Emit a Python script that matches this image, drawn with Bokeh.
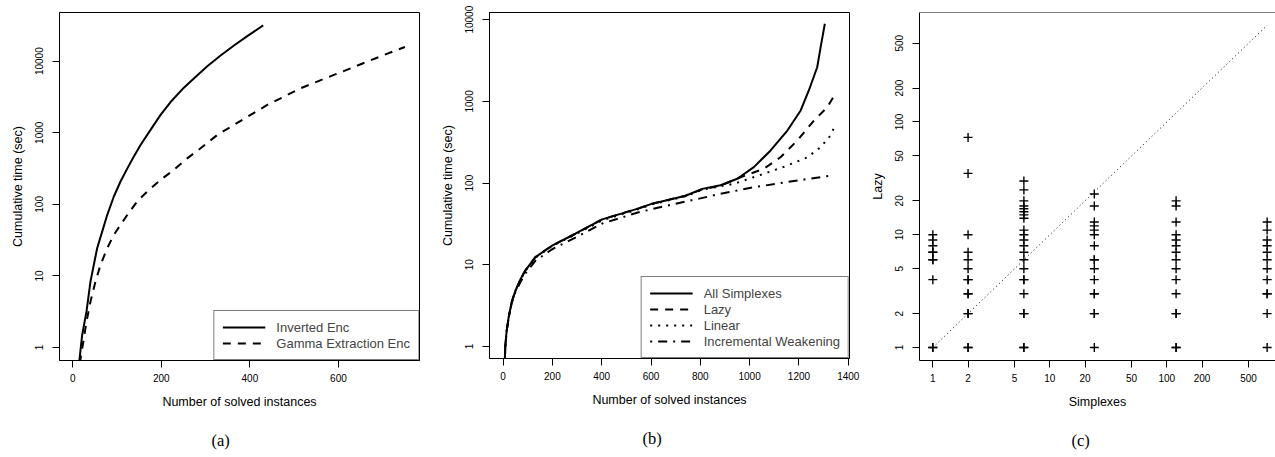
from bokeh.plotting import figure
from bokeh.layouts import row
from bokeh.models import (Range1d, FixedTicker, PrintfTickFormatter, Legend,
                          LegendItem, Title, Span)
from bokeh.embed import file_html
from bokeh.resources import INLINE

# ---------------- data ----------------
# (a) cumulative time vs number of solved instances
inv_x = [14, 15, 21.2, 31, 40, 49, 55, 66.4, 77.7, 92.7, 107.8, 122.9, 137.9, 153,
         175.6, 198.2, 220.8, 250.9, 273.4, 303.7, 333.8, 364, 394, 430]
inv_y = [0.6, 0.67, 1.5, 3.2, 8.4, 15.9, 24.4, 41.7, 71, 129, 209, 316, 468, 676,
         1097, 1780, 2690, 4270, 5750, 8510, 12000, 16600, 22400, 31600]
gam_x = [16, 17, 22.7, 31, 40, 51.3, 62.6, 77.7, 92.7, 107.8, 122.9, 145.5, 168, 198.2,
         228.2, 258.5, 288.6, 326.3, 364, 401.6, 439.3, 476.8, 514.6, 552, 589.8, 627.5,
         665, 703, 750]
gam_y = [0.6, 0.67, 1.09, 2.3, 4.4, 8.4, 14.3, 24.4, 37.5, 51.7, 71, 110, 151, 220,
         303, 440, 607, 933, 1290, 1780, 2450, 3200, 4190, 5190, 6430, 7950,
         9860, 12240, 15800]

# (b)
all_x = [7, 9, 14, 23, 35, 50, 70, 90, 131, 199, 293, 402, 550, 605, 740, 808, 882,
         950, 1017, 1085, 1153, 1207, 1240, 1274, 1288, 1305]
all_y = [0.65, 1, 1.5, 2.3, 3.5, 4.8, 6.6, 8.5, 12.4, 17.2, 24, 36, 49, 56, 70, 85, 94,
         113, 157, 251, 440, 774, 1360, 2620, 4610, 8910]
lazy_x = [7, 9, 14, 23, 35, 50, 70, 90, 131, 199, 293, 402, 550, 605, 740, 808, 882,
          963, 1058, 1125, 1193, 1261, 1315, 1351]
lazy_y = [0.65, 1, 1.5, 2.3, 3.5, 4.8, 6.6, 8.5, 12.4, 17.2, 24, 36, 49, 56, 70, 84, 93,
          118, 150, 207, 331, 584, 850, 1297]
lin_x = [7, 9, 14, 23, 35, 50, 70, 90, 131, 199, 293, 402, 550, 605, 740, 808, 936,
         1058, 1153, 1234, 1288, 1328, 1349]
lin_y = [0.65, 1, 1.5, 2.3, 3.5, 4.8, 6.5, 8.4, 12.2, 17, 23.5, 35, 48, 55, 69, 83, 98,
         130, 164, 207, 275, 383, 532]
iw_x = [7, 9, 14, 23, 35, 50, 70, 90, 131, 199, 293, 402, 550, 700, 800, 882, 1017,
        1153, 1332]
iw_y = [0.65, 1, 1.5, 2.3, 3.4, 4.6, 6.1, 7.8, 11.2, 15.5, 21.5, 32, 44, 56, 65, 74, 89,
        103, 124]

# (c) scatter: Simplexes (x) vs Lazy (y)
simplex_cols = [1, 2, 6, 24, 120, 720]
lazy_by_col = [
    [1, 1, 4, 6, 6, 7, 7, 8, 9, 10],
    [1, 1, 2, 2, 3, 3, 4, 4, 5, 6, 7, 10, 35, 73],
    [1, 1, 2, 2, 3, 4, 4, 5, 6, 7, 8, 9, 10, 11, 14, 15, 16, 17, 18, 20, 25, 30],
    [1, 2, 2, 3, 3, 4, 5, 6, 6, 8, 10, 11, 12, 13, 18, 23],
    [1, 1, 2, 2, 3, 4, 5, 6, 7, 8, 9, 10, 13, 18, 20],
    [1, 2, 3, 3, 4, 5, 6, 7, 8, 9, 11, 13],
]
diag = [1, 720]

# tick labels
a_xticks = [0, 200, 400, 600]
b_xticks = [0, 200, 400, 600, 800, 1000, 1200, 1400]
ab_yticks = [1, 10, 100, 1000, 10000]
c_ticks = [1, 2, 5, 10, 20, 50, 100, 200, 500]

FONT = "Liberation Sans"
SERIF = "Liberation Serif"


def make_fig(fw, fh, left, top, right, xr, yr, xlog, ylog):
    p = figure(frame_width=fw, frame_height=fh, min_border_left=left,
               min_border_right=right, min_border_top=top, min_border_bottom=10,
               x_range=xr, y_range=yr,
               x_axis_type="log" if xlog else "linear",
               y_axis_type="log" if ylog else "linear",
               output_backend="svg", toolbar_location=None)
    p.xgrid.visible = False
    p.ygrid.visible = False
    p.outline_line_color = "black"
    p.outline_line_width = 1
    p.background_fill_color = "white"
    p.border_fill_color = "white"
    for ax in (p.xaxis[0], p.yaxis[0]):
        ax.major_tick_in = 0
        ax.major_tick_out = 7
        ax.minor_tick_in = 0
        ax.minor_tick_out = 0
        ax.major_tick_line_color = "black"
        ax.axis_line_color = "black"
        ax.major_label_text_font = FONT
        ax.major_label_text_font_size = "10px"
        ax.major_label_text_color = "black"
        ax.axis_label_text_font = FONT
        ax.axis_label_text_font_size = "12.5px"
        ax.axis_label_text_font_style = "normal"
        ax.axis_label_text_color = "black"
        ax.formatter = PrintfTickFormatter(format="%d")
    p.xaxis.major_label_standoff = 6
    p.yaxis.major_label_standoff = 9
    p.yaxis.major_label_orientation = "vertical"
    p.xaxis.axis_label_standoff = 10
    p.yaxis.axis_label_standoff = 8
    return p


def caption(p, text, offset):
    p.add_layout(Title(text=" ", text_font=SERIF, text_font_size="16px", standoff=0),
                 "below")
    p.add_layout(Title(text=text, align="left", offset=offset, vertical_align="top",
                       standoff=0, text_font=SERIF, text_font_size="16.5px",
                       text_font_style="normal", text_color="black"), "below")


def legend(p, items):
    lg = Legend(items=items, location="bottom_right", margin=0, padding=8, spacing=0,
                label_height=16, glyph_height=16, glyph_width=43, label_standoff=11,
                label_text_font=FONT, label_text_font_size="13px",
                border_line_color="black", border_line_width=1,
                background_fill_color="white", background_fill_alpha=1)
    p.add_layout(lg)


# ---------------- (a) ----------------
pa = make_fig(360, 348, 59, 11, 15, Range1d(-30, 783), Range1d(0.66, 47900), False, True)
pa.xaxis.ticker = FixedTicker(ticks=a_xticks)
pa.yaxis.ticker = FixedTicker(ticks=ab_yticks)
pa.xaxis.axis_label = "Number of solved instances"
pa.yaxis.axis_label = "Cumulative time (sec)"
ra1 = pa.line(inv_x, inv_y, line_color="black", line_width=2)
ra2 = pa.line(gam_x, gam_y, line_color="black", line_width=2, line_dash="8 7")
legend(pa, [LegendItem(label="Inverted Enc", renderers=[ra1]),
            LegendItem(label="Gamma Extraction Enc", renderers=[ra2])])
caption(pa, "(a)", 152)

# ---------------- (b) ----------------
pb = make_fig(360, 346, 55, 12, 15, Range1d(-55, 1405), Range1d(0.713, 12250), False, True)
pb.xaxis.ticker = FixedTicker(ticks=b_xticks)
pb.yaxis.ticker = FixedTicker(ticks=ab_yticks)
pb.xaxis.axis_label = "Number of solved instances"
pb.yaxis.axis_label = "Cumulative time (sec)"
rb1 = pb.line(all_x, all_y, line_color="black", line_width=2)
rb2 = pb.line(lazy_x, lazy_y, line_color="black", line_width=2, line_dash="8 7")
rb3 = pb.line(lin_x, lin_y, line_color="black", line_width=2, line_dash="2 6")
rb4 = pb.line(iw_x, iw_y, line_color="black", line_width=2, line_dash="2 6 9 6")
legend(pb, [LegendItem(label="All Simplexes", renderers=[rb1]),
            LegendItem(label="Lazy", renderers=[rb2]),
            LegendItem(label="Linear", renderers=[rb3]),
            LegendItem(label="Incremental Weakening", renderers=[rb4])])
caption(pb, "(b)", 153)

# ---------------- (c) ----------------
pc = make_fig(356, 348, 55, 11, 0, Range1d(0.769, 849), Range1d(0.768, 935), True, True)
pc.outline_line_color = None
pc.add_layout(Span(location=935, dimension="width", line_color="black", line_width=1))
pc.xaxis.ticker = FixedTicker(ticks=c_ticks)
pc.yaxis.ticker = FixedTicker(ticks=c_ticks)
pc.xaxis.axis_label = "Simplexes"
pc.yaxis.axis_label = "Lazy"
pc.line(diag, diag, line_color="black", line_width=1, line_dash="1 3")
xs, ys = [], []
for sx, col in zip(simplex_cols, lazy_by_col):
    for v in col:
        xs.append(sx)
        ys.append(v)
pc.scatter(xs, ys, marker="cross", size=9, line_color="black", line_width=1.4)
caption(pc, "(c)", 152)

layout = row(pa, pb, pc)
open("out.html", "w").write(file_html(layout, INLINE))
